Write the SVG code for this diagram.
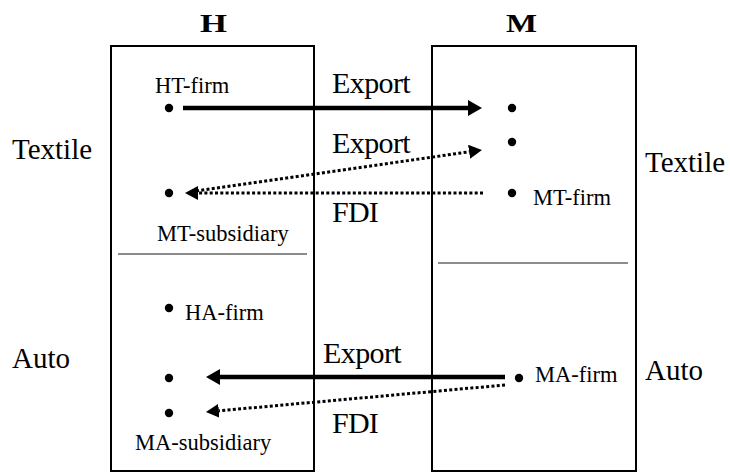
<svg xmlns="http://www.w3.org/2000/svg" width="730" height="473" viewBox="0 0 730 473">
<defs>
<style>
text{font-family:"Liberation Serif","Times New Roman",serif;fill:#000}
.hd{font-size:26px;font-weight:bold}
.lb{font-size:22.5px}
.fl{font-size:30px;letter-spacing:-0.6px}
.sec{font-size:29px}
.box{fill:none;stroke:#000;stroke-width:2}
.div{stroke:#666;stroke-width:1.5}
.dot{fill:#000}
.solid{fill:none;stroke:#000;stroke-width:4.5}
.dotted{fill:none;stroke:#000;stroke-width:3;stroke-dasharray:3 2.3}
</style>
<marker id="ahS" markerUnits="userSpaceOnUse" markerWidth="14" markerHeight="16" refX="0" refY="8" orient="auto">
<path d="M0,0 L14,8 L0,16 z" fill="#000"/>
</marker>
<marker id="ahD" markerUnits="userSpaceOnUse" markerWidth="13" markerHeight="14" refX="0" refY="7" orient="auto">
<path d="M0,0 L13,7 L0,14 z" fill="#000"/>
</marker>
</defs>
<rect width="730" height="473" fill="#fff"/>

<g id="country-H">
<rect class="box" x="111" y="46" width="203" height="425"/>
<line class="div" x1="118" y1="254" x2="307" y2="254"/>
<text class="hd" x="200" y="32" textLength="27" lengthAdjust="spacingAndGlyphs">H</text>
</g>
<g id="country-M">
<rect class="box" x="432" y="46" width="204" height="425"/>
<line class="div" x1="438" y1="263" x2="628" y2="263"/>
<text class="hd" x="506" y="32" textLength="31" lengthAdjust="spacingAndGlyphs">M</text>
</g>

<g id="sector-labels">
<text class="sec" x="12" y="159">Textile</text>
<text class="sec" x="645" y="172">Textile</text>
<text class="sec" x="12" y="368">Auto</text>
<text class="sec" x="645" y="380">Auto</text>
</g>

<g id="HT-firm">
<circle class="dot" cx="169" cy="108" r="4.2"/>
<text class="lb" x="155" y="93">HT-firm</text>
</g>
<g id="MT-subsidiary">
<circle class="dot" cx="169" cy="193" r="4.2"/>
<text class="lb" x="157" y="241">MT-subsidiary</text>
</g>
<g id="M-textile-dot1">
<circle class="dot" cx="512" cy="108" r="4.2"/>
</g>
<g id="M-textile-dot2">
<circle class="dot" cx="512" cy="142" r="4.2"/>
</g>
<g id="MT-firm">
<circle class="dot" cx="512" cy="193" r="4.2"/>
<text class="lb" x="533" y="205">MT-firm</text>
</g>
<g id="HA-firm">
<circle class="dot" cx="169" cy="308" r="4.2"/>
<text class="lb" x="185" y="320">HA-firm</text>
</g>
<g id="H-auto-dot">
<circle class="dot" cx="169" cy="378" r="4.2"/>
</g>
<g id="MA-subsidiary">
<circle class="dot" cx="169" cy="413" r="4.2"/>
<text class="lb" x="135" y="450">MA-subsidiary</text>
</g>
<g id="MA-firm">
<circle class="dot" cx="519" cy="378" r="4.2"/>
<text class="lb" x="535" y="382">MA-firm</text>
</g>

<g id="connectors">
<path class="solid" d="M183,108 L468,108" marker-end="url(#ahS)"/>
<path class="dotted" d="M196,191 L469.1,151.8" marker-end="url(#ahD)"/>
<path class="dotted" d="M483,193 L198,193" marker-end="url(#ahD)"/>
<path class="solid" d="M505,377 L220,377" marker-end="url(#ahS)"/>
<path class="dotted" d="M505,385 L218.9,410.8" marker-end="url(#ahD)"/>
<text class="fl" x="332" y="93">Export</text>
<text class="fl" x="332" y="153">Export</text>
<text class="fl" x="332" y="222" style="letter-spacing:-0.8px">FDI</text>
<text class="fl" x="323" y="363">Export</text>
<text class="fl" x="332" y="433" style="letter-spacing:-0.8px">FDI</text>
</g>
</svg>
